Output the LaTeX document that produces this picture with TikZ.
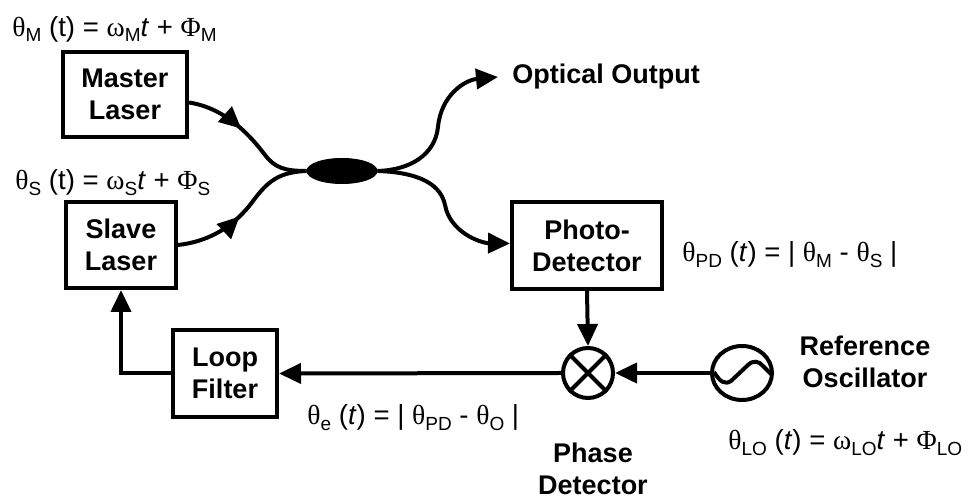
\documentclass[tikz,border=0pt]{standalone}
\usepackage{fontspec}
\setmainfont{Liberation Sans}
\newfontfamily\gr{Liberation Serif}
\usetikzlibrary{arrows.meta,decorations.markings,shapes.geometric}
\newcommand\sbs[1]{\raisebox{-0.4ex}{\fontsize{9.5}{9.5}\selectfont #1}}
\begin{document}
\begin{tikzpicture}[x=0.5pt,y=-0.5pt,
  box/.style={draw,line width=2pt,inner sep=0pt,align=center,font=\fontsize{13.5}{16}\selectfont\bfseries},
  btext/.style={inner sep=0pt,align=center,font=\fontsize{13.5}{16}\selectfont\bfseries},
  eq/.style={inner sep=0pt,anchor=west,font=\fontsize{13.8}{15}\selectfont},
  wire/.style={line width=2pt},
  arr/.style={wire,-{Triangle[length=11pt,width=10pt]}},
  midarr/.style={wire,postaction={decorate},decoration={markings,mark=at position #1 with {\arrow{Triangle[length=11pt,width=10pt]}}}}
]
\useasboundingbox (0,0) rectangle (970,501);

% blocks
\node[box,minimum width=62pt,minimum height=42.5pt] (master) at (125,94.5) {Master\\Laser};
\node[box,minimum width=55pt,minimum height=43pt] (slave) at (121,245) {Slave\\Laser};
\node[box,minimum width=75pt,minimum height=43.5pt] (pd) at (587,245.5) {Photo-\\Detector};
\node[box,minimum width=52pt,minimum height=43.5pt] (loop) at (225,373.5) {Loop\\Filter};
\node[ellipse,fill=black,draw,line width=0.5pt,minimum width=35pt,minimum height=12.5pt,inner sep=0pt] (coupler) at (342,171) {};
\node[circle,draw,line width=2pt,minimum size=25pt,inner sep=0pt] (mixer) at (588,373) {};
\draw[line width=2pt] (mixer.north west) -- (mixer.south east) (mixer.north east) -- (mixer.south west);
\node[ellipse,draw,line width=2pt,minimum width=30pt,minimum height=27pt,inner sep=0pt] (osc) at (742,373) {};
\begin{scope}[shift={(osc.center)}]
  \draw[line width=2pt] (-28,-1) .. controls (-22,9) and (-17,12) .. (-11,8) -- (6,-8) .. controls (11,-13) and (17,-12) .. (21,-7) -- (29,1);
\end{scope}

% texts
\node[btext,anchor=west] (optout) at (512,77) {Optical Output};
\node[btext] (reftxt) at (865,362) {Reference\\Oscillator};
\node[btext] (phtxt) at (593,469) {Phase\\Detector};

\node[eq] (eqM) at (12,29) {{\gr θ}\sbs{M} (t) = {\gr ω}\sbs{M}\textit{t} + {\gr Φ}\sbs{M}};
\node[eq] (eqS) at (15,183) {{\gr θ}\sbs{S} (t) = {\gr ω}\sbs{S}\textit{t} + {\gr Φ}\sbs{S}};
\node[eq] (eqPD) at (682,255) {{\gr θ}\sbs{PD} (\textit{t}) = | {\gr θ}\sbs{M} - {\gr θ}\sbs{S} |};
\node[eq] (eqe) at (307,418) {{\gr θ}\sbs{e} (\textit{t}) = | {\gr θ}\sbs{PD} - {\gr θ}\sbs{O} |};
\node[eq] (eqLO) at (728,443) {{\gr θ}\sbs{LO} (\textit{t}) = {\gr ω}\sbs{LO}\textit{t} + {\gr Φ}\sbs{LO}};

% fibre connections
\draw[midarr=0.42] ([yshift=-4pt]master.east) .. controls (225,108) and (250,135) .. (265,155) .. controls (275,168) and (285,171) .. (coupler.west);
\draw[midarr=0.45] (slave.east) .. controls (205,242) and (230,230) .. (250,205) .. controls (265,185) and (275,172) .. (coupler.west);
\draw[arr] (coupler.east) .. controls (410,170) and (435,155) .. (438,127) .. controls (441,95) and (465,80) .. ([xshift=-7pt]optout.west);
\draw[arr] (coupler.east) .. controls (410,172) and (440,180) .. (445,205) .. controls (450,232) and (480,243) .. ([yshift=1pt]pd.west);

% electrical connections
\draw[arr] (pd.south) -- (mixer.north);
\draw[arr] (osc.west) -- (mixer.east);
\draw[arr] (mixer.west) -- (loop.east);
\draw[arr] (loop.west) -| (slave.south);
\end{tikzpicture}
\end{document}
